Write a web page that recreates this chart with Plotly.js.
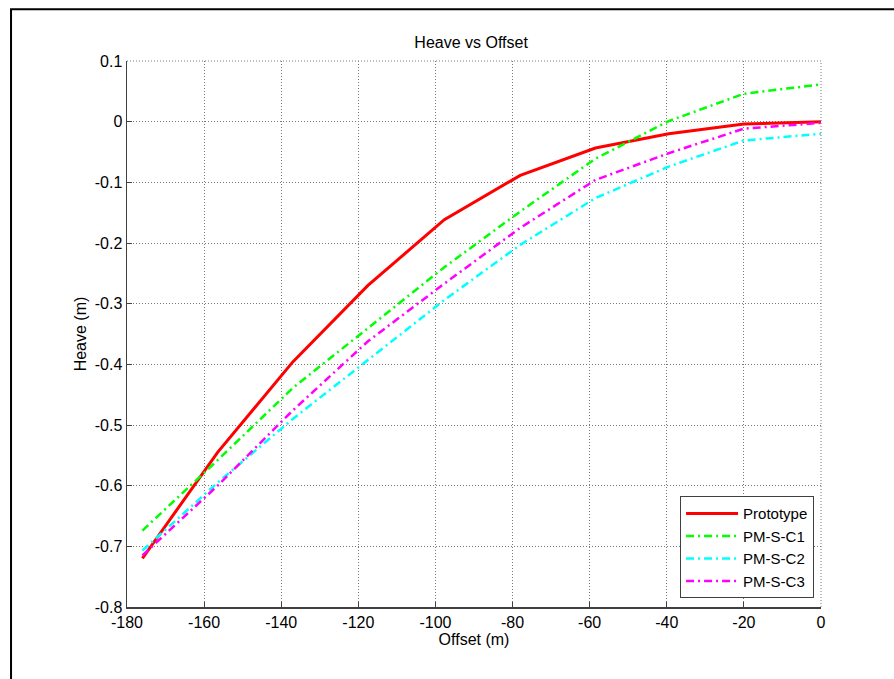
<!DOCTYPE html>
<html>
<head>
<meta charset="utf-8">
<script src="https://cdn.plot.ly/plotly-3.0.1.min.js"></script>
<style>
html,body{margin:0;padding:0;background:#fff;}
#chart{width:894px;height:679px;}
</style>
</head>
<body>
<div id="chart"></div>
<script>
// Offset positions (m)
const offset = [-176, -156.5, -137, -117.5, -97.7, -78, -58.5, -39.5, -20, 0];
// Heave (m) per series
const prototype = [-0.720, -0.545, -0.396, -0.270, -0.1615, -0.0885, -0.0435, -0.0198, -0.0040, 0.000];
const pmSC1 = [-0.674, -0.558, -0.439, -0.340, -0.240, -0.148, -0.061, 0.001, 0.046, 0.0615];
const pmSC2 = [-0.707, -0.595, -0.490, -0.392, -0.294, -0.203, -0.126, -0.074, -0.031, -0.020];
const pmSC3 = [-0.715, -0.600, -0.476, -0.362, -0.267, -0.175, -0.096, -0.052, -0.0115, -0.002];

const seriesNames = ['Prototype', 'PM-S-C1', 'PM-S-C2', 'PM-S-C3'];
const xTicks = [-180, -160, -140, -120, -100, -80, -60, -40, -20, 0];
const yTicks = [-0.8, -0.7, -0.6, -0.5, -0.4, -0.3, -0.2, -0.1, 0, 0.1];

const dd = '8px,4px,2px,4px';
const traces = [
  {x: offset, y: prototype, name: seriesNames[0], mode: 'lines', line: {color: '#ff0000', width: 3}},
  {x: offset, y: pmSC1, name: seriesNames[1], mode: 'lines', line: {color: '#00ff00', width: 2.5, dash: dd}},
  {x: offset, y: pmSC2, name: seriesNames[2], mode: 'lines', line: {color: '#00ffff', width: 2.5, dash: dd}},
  {x: offset, y: pmSC3, name: seriesNames[3], mode: 'lines', line: {color: '#ff00ff', width: 2.5, dash: dd}}
];

const font = {family: 'Liberation Sans, Arial, sans-serif', size: 16, color: '#000'};
const gridDash = '1px,2px';
const gridColor = '#7a7a7a';

const layout = {
  width: 894, height: 679,
  margin: {l: 127, r: 73, t: 61, b: 72},
  paper_bgcolor: '#fff', plot_bgcolor: '#fff',
  font: font,
  showlegend: true,
  title: {text: 'Heave vs Offset', font: {family: font.family, size: 16, color: '#000'},
          x: 0.527, xanchor: 'center', y: 0.938, yanchor: 'middle'},
  xaxis: {
    range: [-180, 0], tickvals: xTicks, ticktext: xTicks.map(String),
    showgrid: true, gridcolor: gridColor, griddash: gridDash, gridwidth: 1,
    zeroline: false, showline: true, linecolor: '#404040', linewidth: 1.5,
    ticks: 'inside', ticklen: 5, tickcolor: '#404040', mirror: false,
    tickfont: font,
    title: {text: 'Offset (m)', font: font, standoff: 2}
  },
  yaxis: {
    range: [-0.8, 0.1], tickvals: yTicks, ticktext: yTicks.map(v => String(Math.round(v*10)/10)),
    showgrid: true, gridcolor: gridColor, griddash: gridDash, gridwidth: 1,
    zeroline: false, showline: true, linecolor: '#404040', linewidth: 1.5,
    ticks: 'inside', ticklen: 5, tickcolor: '#404040', mirror: false,
    tickfont: font,
    title: {text: 'Heave (m)', font: font, standoff: 4}
  },
  legend: {
    x: 0.99, y: 0.016, xanchor: 'right', yanchor: 'bottom',
    bgcolor: '#fff', bordercolor: '#404040', borderwidth: 1,
    font: {family: font.family, size: 15, color: '#000'}, tracegroupgap: 0, itemwidth: 52,
    entrywidth: 0
  },
  shapes: [
    // top grid line and right grid line at the plot edges (dotted)
    {type: 'line', xref: 'paper', yref: 'paper', x0: 0, x1: 1, y0: 1, y1: 1, line: {color: gridColor, width: 1, dash: gridDash}},
    {type: 'line', xref: 'paper', yref: 'paper', x0: 1, x1: 1, y0: 0, y1: 1, line: {color: gridColor, width: 1, dash: gridDash}},
    // figure frame
    {type: 'rect', xref: 'paper', yref: 'paper', x0: -0.1671, x1: 1.12, y0: -0.15, y1: 1.0947,
     line: {color: '#000', width: 2}, fillcolor: 'rgba(0,0,0,0)', layer: 'below'}
  ]
};

Plotly.newPlot('chart', traces, layout, {displayModeBar: false, staticPlot: true});
</script>
</body>
</html>
